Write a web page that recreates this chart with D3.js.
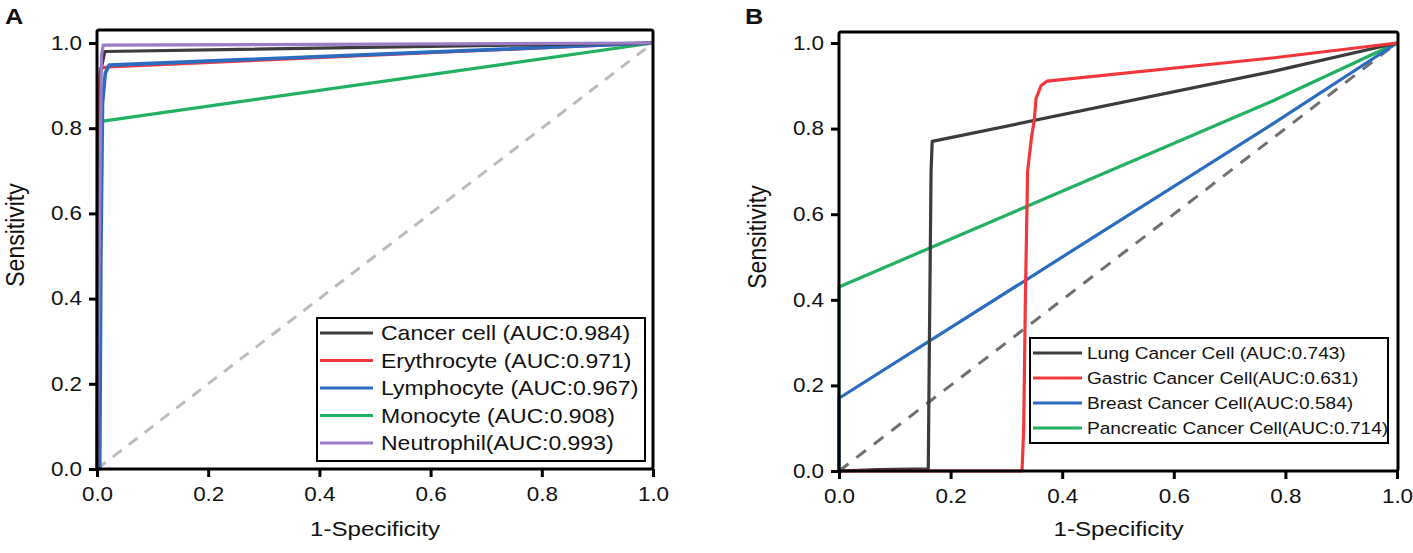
<!DOCTYPE html>
<html>
<head>
<meta charset="utf-8">
<script src="https://cdn.jsdelivr.net/npm/d3@7/dist/d3.min.js"></script>
<style>
  html, body { margin: 0; padding: 0; background: #fff; }
  svg { display: block; }
  text { font-family: "Liberation Sans", Arial, sans-serif; fill: #111; }
</style>
</head>
<body>
<svg id="chart" width="1413" height="553"></svg>
<script>
// ---------------- DATA ----------------
const tickValues = [0, 0.2, 0.4, 0.6, 0.8, 1.0];

// Panel A
const labelsA = [
  "Cancer cell (AUC:0.984)",
  "Erythrocyte (AUC:0.971)",
  "Lymphocyte (AUC:0.967)",
  "Monocyte (AUC:0.908)",
  "Neutrophil(AUC:0.993)"
];
const colorsA = ["#3c3c3c", "#f2383d", "#2b6cc0", "#22b062", "#9b7dc6"];
const cancerCellA  = [[0,0],[0.003,0.5],[0.006,0.93],[0.014,0.98],[1,1]];
const erythrocyteA = [[0,0],[0.001,0.6],[0.002,0.82],[0.006,0.94],[0.02,0.944],[1,1]];
const lymphocyteA  = [[0,0],[0.005,0],[0.007,0.5],[0.01,0.86],[0.015,0.93],[0.022,0.948],[1,1]];
const monocyteA    = [[0,0],[0.001,0.815],[1,1]];
const neutrophilA  = [[0,0],[0.004,0.5],[0.008,0.97],[0.011,0.995],[1,1]];

// Panel B
const labelsB = [
  "Lung Cancer Cell (AUC:0.743)",
  "Gastric Cancer Cell(AUC:0.631)",
  "Breast Cancer Cell(AUC:0.584)",
  "Pancreatic Cancer Cell(AUC:0.714)"
];
const colorsB = ["#3c3c3c", "#f2383d", "#2b6cc0", "#22b062"];
const lungB       = [[0,0],[0.07,0.003],[0.16,0.005],[0.162,0.3],[0.165,0.7],[0.167,0.77],[0.776,0.933],[1,1]];
const gastricB    = [[0,0],[0.328,0],[0.331,0.1],[0.334,0.4],[0.338,0.7],[0.345,0.78],[0.35,0.82],[0.353,0.87],[0.362,0.9],[0.373,0.911],[0.776,0.965],[1,1]];
const breastB     = [[0,0],[0,0.17],[0.776,0.81],[1,1]];
const pancreaticB = [[0,0],[0,0.43],[0.776,0.864],[1,1]];

const diagonal = [[0,0],[1,1]];

// ---------------- DRAW ----------------
const svg = d3.select("#chart");
const SX = 1.15; // horizontal text stretch seen in the reference

function stretchedText(g, x, y, str, size, opts = {}) {
  return g.append("text")
    .attr("transform", `translate(${x},${y}) scale(${SX},1)`)
    .attr("font-size", size)
    .attr("font-weight", opts.weight || "normal")
    .attr("text-anchor", opts.anchor || "start")
    .attr("dy", opts.dy || 0)
    .text(str);
}

function drawPanel(cfg) {
  const g = svg.append("g");
  const x = d3.scaleLinear().domain([0, 1]).range([cfg.left, cfg.x1]);
  const y = d3.scaleLinear().domain([0, 1]).range([cfg.bottom, cfg.y1]);
  const line = d3.line().x(d => x(d[0])).y(d => y(d[1]));

  // diagonal
  g.append("path").datum(diagonal)
    .attr("d", line).attr("fill", "none")
    .attr("stroke", cfg.diagColor).attr("stroke-width", 3)
    .attr("stroke-dasharray", cfg.diagDash);

  // curves
  cfg.order.forEach(i => {
    g.append("path").datum(cfg.series[i])
      .attr("d", line).attr("fill", "none")
      .attr("stroke", cfg.colors[i])
      .attr("stroke-width", cfg.widths[i])
      .attr("stroke-linejoin", "round");
  });

  // frame
  g.append("rect")
    .attr("x", cfg.left).attr("y", cfg.top)
    .attr("width", cfg.right - cfg.left).attr("height", cfg.bottom - cfg.top)
    .attr("rx", 2)
    .attr("fill", "none").attr("stroke", "#000").attr("stroke-width", 3);

  // axes
  const fmt = d3.format(".1f");
  const ax = g.append("g").attr("transform", `translate(0,${cfg.bottom})`)
    .call(d3.axisBottom(x).tickValues(tickValues).tickFormat(fmt).tickSize(8).tickSizeOuter(0).tickPadding(10));
  const ay = g.append("g").attr("transform", `translate(${cfg.left},0)`)
    .call(d3.axisLeft(y).tickValues(tickValues).tickFormat(fmt).tickSize(8).tickSizeOuter(0).tickPadding(5));
  [ax, ay].forEach(a => {
    a.select(".domain").remove();
    a.selectAll(".tick line").attr("stroke", "#000").attr("stroke-width", 3);
    a.selectAll(".tick text")
      .attr("font-size", 19.5)
      .attr("fill", "#111")
      .attr("font-family", "Liberation Sans, Arial, sans-serif")
      .attr("transform", `scale(${SX},1)`);
  });

  // axis titles
  stretchedText(g, (cfg.left + cfg.right) / 2, 536, "1-Specificity", 21, { anchor: "middle" });
  g.append("text")
    .attr("transform", `translate(${cfg.ytitleX},${cfg.ytitleY}) rotate(-90) scale(1,${SX})`)
    .attr("font-size", 23).attr("text-anchor", "middle")
    .text("Sensitivity");

  // panel letter
  stretchedText(g, cfg.letterX, 24, cfg.letter, 22, { weight: "bold" });

  // legend
  const L = cfg.legend;
  g.append("rect")
    .attr("x", L.x).attr("y", L.y).attr("width", L.w).attr("height", L.h)
    .attr("fill", "#fff").attr("stroke", "#000").attr("stroke-width", 2);
  cfg.labels.forEach((lab, i) => {
    const cy = L.firstRow + i * L.rowGap;
    g.append("line")
      .attr("x1", L.lineX1).attr("x2", L.lineX2)
      .attr("y1", cy).attr("y2", cy)
      .attr("stroke", cfg.colors[i]).attr("stroke-width", 3);
    stretchedText(g, L.textX, cy, lab, L.fontSize, { dy: "0.36em" });
  });
}

drawPanel({
  left: 97, right: 653, top: 30, bottom: 469, x1: 653, y1: 43,
  series: [cancerCellA, erythrocyteA, lymphocyteA, monocyteA, neutrophilA],
  colors: colorsA, labels: labelsA,
  widths: [3.2, 3.2, 3.6, 3.2, 3.2],
  order: [3, 1, 2, 0, 4],
  diagColor: "#bdbdbd", diagDash: "11,9",
  ytitleX: 24, ytitleY: 235, letter: "A", letterX: 5,
  legend: { x: 317, y: 318, w: 328, h: 143, firstRow: 333, rowGap: 27.5,
            lineX1: 320, lineX2: 373, textX: 381, fontSize: 20 }
});

drawPanel({
  left: 839, right: 1398, top: 32, bottom: 471, x1: 1397, y1: 43,
  series: [lungB, gastricB, breastB, pancreaticB],
  colors: colorsB, labels: labelsB,
  widths: [3.2, 3.2, 3.2, 3.2],
  order: [3, 2, 0, 1],
  diagColor: "#707070", diagDash: "12,10",
  ytitleX: 766, ytitleY: 237, letter: "B", letterX: 745,
  legend: { x: 1030, y: 338, w: 358, h: 105, firstRow: 353, rowGap: 25,
            lineX1: 1033, lineX2: 1082, textX: 1087, fontSize: 16.6 }
});
</script>
</body>
</html>
